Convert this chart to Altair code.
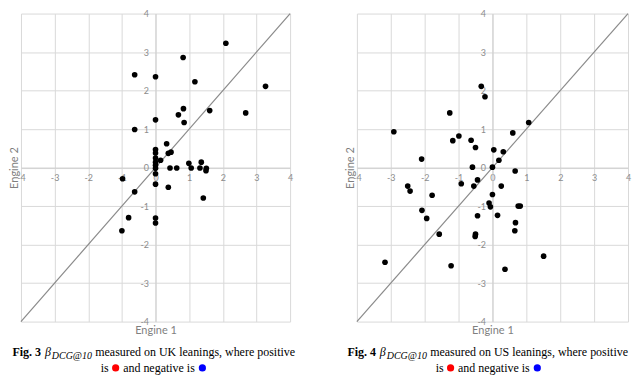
import altair as alt
import pandas as pd

# ---------------- data ----------------
ticks = [-4, -3, -2, -1, 0, 1, 2, 3, 4]
diag = [-4, 4]

uk_x = [2.09, 0.82, -0.62, 0.0, 1.17, 3.27, 0.83, 1.61, 2.68, 0.68, 0.85, 0.0, -0.62,
        0.33, 0.38, 0.46, 0.0, 0.0, 0.0, 0.15, 0.0, 0.0, 0.0, 0.0, 0.43, 0.63, 0.99,
        1.06, 1.36, 1.32, 1.51, 1.50, -0.98, 0.0, 0.38, -0.62, 1.42, -0.80, 0.0, 0.0, -1.0]
uk_y = [3.23, 2.86, 2.41, 2.36, 2.23, 2.11, 1.53, 1.48, 1.42, 1.37, 1.17, 1.24, 0.99,
        0.62, 0.37, 0.40, 0.47, 0.38, 0.25, 0.19, 0.14, 0.06, -0.02, -0.16, -0.01, -0.01, 0.11,
        -0.01, 0.14, -0.01, -0.02, -0.08, -0.29, -0.43, -0.51, -0.63, -0.79, -1.30, -1.31, -1.44, -1.64]

us_x = [-0.33, -0.22, -1.26, 1.07, -2.91, 0.60, -0.99, -1.17, -0.63, -0.50, 0.04, 0.32,
        -2.09, 0.19, -0.59, 0.0, 0.67, -0.92, -0.44, -0.55, 0.26, -2.50, -2.43, -1.78,
        0.0, -0.10, -0.06, 0.76, 0.82, -2.08, -1.94, -0.44, 0.15, 0.68, 0.66, -1.57,
        -0.50, -0.51, 1.51, -3.17, -1.22, 0.37]
us_y = [2.11, 1.84, 1.42, 1.17, 0.93, 0.90, 0.82, 0.70, 0.71, 0.52, 0.46, 0.41,
        0.22, 0.19, 0.01, 0.01, -0.09, -0.42, -0.32, -0.48, -0.48, -0.48, -0.61, -0.72,
        -0.70, -0.92, -1.02, -1.00, -1.00, -1.11, -1.32, -1.25, -1.24, -1.43, -1.64, -1.73,
        -1.73, -1.79, -2.30, -2.46, -2.55, -2.64]

x_title = "Engine 1"
y_title = "Engine 2"
fig_labels = ["Fig. 3", "Fig. 4"]
caption_beta = "β"
caption_sub = "DCG@10"
caption_rest = ["measured on UK leanings, where positive",
                "measured on US leanings, where positive"]
caption_line2 = ["is", "and negative is"]

# ---------------- layout ----------------
H = 309
WIDTHS = [270, 272]
SHIFT = [-2, -4]
GRID = "#d9d9d9"
LAB = "#8c8c8c"
SERIF = "Liberation Serif"
one = pd.DataFrame({"k": [0]})


def txt(text, x, y, size=12, weight="normal", style="normal", color="black"):
    return alt.Chart(one).mark_text(
        text=text, font=SERIF, fontSize=size, fontWeight=weight, fontStyle=style,
        color=color, align="left", baseline="alphabetic"
    ).encode(x=alt.value(x), y=alt.value(y))


def dot(x, y, color):
    return alt.Chart(one).mark_circle(size=52, color=color, opacity=1).encode(
        x=alt.value(x), y=alt.value(y))


def panel(xs, ys, idx):
    W = WIDTHS[idx]
    scale = alt.Scale(domain=[-4, 4], nice=False, zero=False)
    xaxis = alt.Axis(
        values=ticks, offset=-H / 2, grid=True, gridColor=GRID, gridWidth=1,
        ticks=False, domainColor="#cfcfcf", domainWidth=1,
        labelFont="Lato", labelFontSize=9, labelColor=LAB, labelPadding=6,
        labelFlush=False, labelOverlap=False, labelExpr="'' + datum.value",
        title=x_title, titleFont="Lato", titleFontSize=11, titleFontWeight="normal",
        titleColor="#7f7f7f", titleX=W / 2, titleY=H / 2 + 9, titleBaseline="middle",
    )
    yaxis = alt.Axis(
        values=ticks, offset=-W / 2, grid=True, gridColor=GRID, gridWidth=1,
        ticks=False, domainColor="#cfcfcf", domainWidth=1,
        labelFont="Lato", labelFontSize=9, labelColor=LAB, labelPadding=7,
        labelFlush=False, labelOverlap=False, labelExpr="'' + datum.value",
        title=y_title, titleFont="Lato", titleFontSize=11, titleFontWeight="normal",
        titleColor="#7f7f7f", titleX=-W / 2 - 6, titleY=H / 2, titleAngle=270,
        titleBaseline="middle", titleAlign="center",
    )
    dfp = pd.DataFrame({"e1": xs, "e2": ys})
    dfl = pd.DataFrame({"e1": diag, "e2": diag})
    xe = alt.X("e1:Q", scale=scale, axis=xaxis)
    ye = alt.Y("e2:Q", scale=scale, axis=yaxis)
    line = alt.Chart(dfl).mark_line(color="#8a8a8a", strokeWidth=1.2).encode(x=xe, y=ye)
    pts = alt.Chart(dfp).mark_circle(size=32, color="black", opacity=1).encode(x=xe, y=ye)

    c = W / 2 + SHIFT[idx]
    s = c - 141.5
    b1 = 343.5
    b2 = 359.5
    layers = [
        line, pts,
        txt(fig_labels[idx], s, b1, weight="bold"),
        txt(caption_beta, s + 32.5, b1, style="italic"),
        txt(caption_sub, s + 39.5, b1 + 3, size=10, style="italic"),
        txt(caption_rest[idx], s + 83, b1),
        txt(caption_line2[0], c - 53, b2),
        dot(c - 38, b2 - 4, "#ff0000"),
        txt(caption_line2[1], c - 30.5, b2),
        dot(c + 49, b2 - 4, "#0000ff"),
    ]
    return alt.layer(*layers).properties(width=W, height=H)


chart = alt.hconcat(panel(uk_x, uk_y, 0), panel(us_x, us_y, 1),
                    spacing=67, bounds="flush").properties(padding=0).configure_view(
    stroke="transparent")

chart.save("out.html", embed_options={"renderer": "svg", "actions": False})
